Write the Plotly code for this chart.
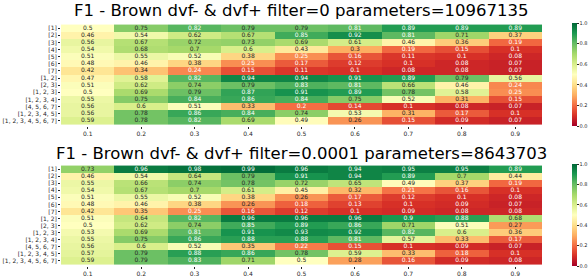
import plotly.graph_objects as go

cols = ["0.1", "0.2", "0.3", "0.4", "0.5", "0.6", "0.7", "0.8", "0.9"]
rows = ["[1]", "[2]", "[3]", "[4]", "[5]", "[6]", "[7]", "[1, 2]", "[2, 3]", "[1, 2, 3]",
        "[1, 2, 3, 4]", "[4, 5, 6, 7]", "[1, 2, 3, 4, 5]", "[1, 2, 3, 4, 5, 6, 7]"]

title_top = "F1 - Brown dvf- & dvf+ filter=0 parameters=10967135"
title_bot = "F1 - Brown dvf- & dvf+ filter=0.0001 parameters=8643703"

z_top = [
    [0.5, 0.75, 0.82, 0.79, 0.79, 0.81, 0.89, 0.89, 0.89],
    [0.46, 0.54, 0.62, 0.67, 0.85, 0.92, 0.81, 0.71, 0.37],
    [0.56, 0.67, 0.72, 0.73, 0.69, 0.61, 0.46, 0.36, 0.19],
    [0.54, 0.68, 0.7, 0.6, 0.43, 0.3, 0.19, 0.15, 0.1],
    [0.51, 0.55, 0.52, 0.38, 0.25, 0.16, 0.11, 0.1, 0.08],
    [0.48, 0.46, 0.38, 0.25, 0.17, 0.12, 0.1, 0.08, 0.07],
    [0.42, 0.34, 0.24, 0.15, 0.11, 0.1, 0.08, 0.08, 0.07],
    [0.47, 0.58, 0.82, 0.94, 0.94, 0.91, 0.89, 0.79, 0.56],
    [0.51, 0.62, 0.74, 0.79, 0.83, 0.81, 0.66, 0.46, 0.24],
    [0.5, 0.69, 0.79, 0.87, 0.91, 0.89, 0.78, 0.58, 0.25],
    [0.55, 0.75, 0.84, 0.86, 0.84, 0.75, 0.52, 0.31, 0.15],
    [0.56, 0.6, 0.51, 0.33, 0.2, 0.14, 0.1, 0.08, 0.07],
    [0.56, 0.78, 0.86, 0.84, 0.74, 0.53, 0.31, 0.17, 0.1],
    [0.59, 0.78, 0.82, 0.69, 0.49, 0.26, 0.15, 0.09, 0.07],
]

z_bot = [
    [0.73, 0.96, 0.98, 0.99, 0.96, 0.94, 0.95, 0.95, 0.89],
    [0.46, 0.54, 0.64, 0.79, 0.91, 0.94, 0.89, 0.7, 0.44],
    [0.55, 0.66, 0.74, 0.78, 0.72, 0.65, 0.49, 0.37, 0.19],
    [0.54, 0.67, 0.7, 0.61, 0.45, 0.32, 0.21, 0.16, 0.1],
    [0.51, 0.55, 0.52, 0.38, 0.26, 0.17, 0.12, 0.1, 0.08],
    [0.48, 0.46, 0.38, 0.26, 0.18, 0.13, 0.1, 0.09, 0.07],
    [0.42, 0.35, 0.25, 0.16, 0.12, 0.1, 0.09, 0.08, 0.08],
    [0.51, 0.64, 0.82, 0.96, 0.96, 0.96, 0.9, 0.88, 0.68],
    [0.5, 0.62, 0.74, 0.85, 0.89, 0.86, 0.71, 0.51, 0.27],
    [0.53, 0.69, 0.81, 0.91, 0.93, 0.92, 0.82, 0.6, 0.36],
    [0.55, 0.75, 0.86, 0.88, 0.88, 0.81, 0.57, 0.33, 0.17],
    [0.56, 0.6, 0.52, 0.35, 0.22, 0.15, 0.1, 0.09, 0.07],
    [0.57, 0.79, 0.88, 0.86, 0.78, 0.59, 0.33, 0.18, 0.1],
    [0.59, 0.79, 0.83, 0.71, 0.5, 0.28, 0.16, 0.09, 0.08],
]

RDYLGN = ["#a50026", "#d73027", "#f46d43", "#fdae61", "#fee08b", "#ffffbf",
          "#d9ef8b", "#a6d96a", "#66bd63", "#1a9850", "#006837"]
colorscale = [[i / 10, c] for i, c in enumerate(RDYLGN)]


def hex2rgb(h):
    return [int(h[i:i + 2], 16) / 255 for i in (1, 3, 5)]


def cell_rgb(v):
    p = max(0.0, min(1.0, v)) * 10
    i = min(int(p), 9)
    f = p - i
    a, b = hex2rgb(RDYLGN[i]), hex2rgb(RDYLGN[i + 1])
    return [a[k] + (b[k] - a[k]) * f for k in range(3)]


def text_color(v):
    rgb = cell_rgb(v)
    lin = [c / 12.92 if c <= 0.03928 else ((c + 0.055) / 1.055) ** 2.4 for c in rgb]
    lum = 0.2126 * lin[0] + 0.7152 * lin[1] + 0.0722 * lin[2]
    return "#262626" if lum > 0.408 else "white"


FONT = "DejaVu Sans"
TXT = "#262626"
W, H = 588, 278
xdom = [61 / W, 542 / W]
ydom_top = [1 - 126 / H, 1 - 23 / H]
ydom_bot = [1 - 266 / H, 1 - 164 / H]

fig = go.Figure()

for idx, (z, ydom) in enumerate([(z_top, ydom_top), (z_bot, ydom_bot)]):
    xa = "x" if idx == 0 else "x2"
    ya = "y" if idx == 0 else "y2"
    fig.add_trace(go.Heatmap(
        z=z, x=cols, y=rows, xaxis=xa, yaxis=ya,
        colorscale=colorscale, zmin=0, zmax=1, xgap=0, ygap=0,
        hoverinfo="skip",
        colorbar=dict(
            x=572 / W, xanchor="left", xpad=0, ypad=0,
            y=(ydom[0] + ydom[1]) / 2, yanchor="middle",
            len=ydom[1] - ydom[0], lenmode="fraction", thickness=5,
            outlinewidth=0, tickvals=[0, 0.2, 0.4, 0.6, 0.8, 1.0],
            ticktext=["0.0", "0.2", "0.4", "0.6", "0.8", "1.0"],
            ticks="outside", ticklen=2, tickwidth=0.6, tickcolor=TXT,
            tickfont=dict(family=FONT, size=5, color=TXT),
        ),
    ))
    xs, ys, ts, cs = [], [], [], []
    for r, row in enumerate(z):
        for c, v in enumerate(row):
            xs.append(cols[c])
            ys.append(rows[r])
            ts.append(f"{v:g}")
            cs.append(text_color(v))
    fig.add_trace(go.Scatter(
        x=xs, y=ys, text=ts, mode="text", xaxis=xa, yaxis=ya,
        textfont=dict(family=FONT, size=6, color=cs), hoverinfo="skip",
        showlegend=False,
    ))

axis_common = dict(showgrid=False, zeroline=False, showline=False, ticks="outside",
                   ticklen=2, tickwidth=0.6, tickcolor=TXT, automargin=False,
                   tickfont=dict(family=FONT, size=6, color=TXT))

fig.update_layout(
    width=W, height=H, margin=dict(l=0, r=0, t=0, b=0, autoexpand=False),
    paper_bgcolor="white", plot_bgcolor="white", showlegend=False,
    xaxis=dict(domain=xdom, anchor="y", type="category", **axis_common),
    yaxis=dict(domain=ydom_top, anchor="x", type="category", autorange="reversed", **axis_common),
    xaxis2=dict(domain=xdom, anchor="y2", type="category", **axis_common),
    yaxis2=dict(domain=ydom_bot, anchor="x2", type="category", autorange="reversed", **axis_common),
    annotations=[
        dict(text=title_top, x=(xdom[0] + xdom[1]) / 2, y=1 - 11 / H, xref="paper", yref="paper",
             xanchor="center", yanchor="middle", showarrow=False,
             font=dict(family=FONT, size=16.5, color="black")),
        dict(text=title_bot, x=(xdom[0] + xdom[1]) / 2, y=1 - 153 / H, xref="paper", yref="paper",
             xanchor="center", yanchor="middle", showarrow=False,
             font=dict(family=FONT, size=16.5, color="black")),
    ],
)

fig.write_html("out.html", config={"displayModeBar": False},
               post_script="document.body.style.margin='0';")
